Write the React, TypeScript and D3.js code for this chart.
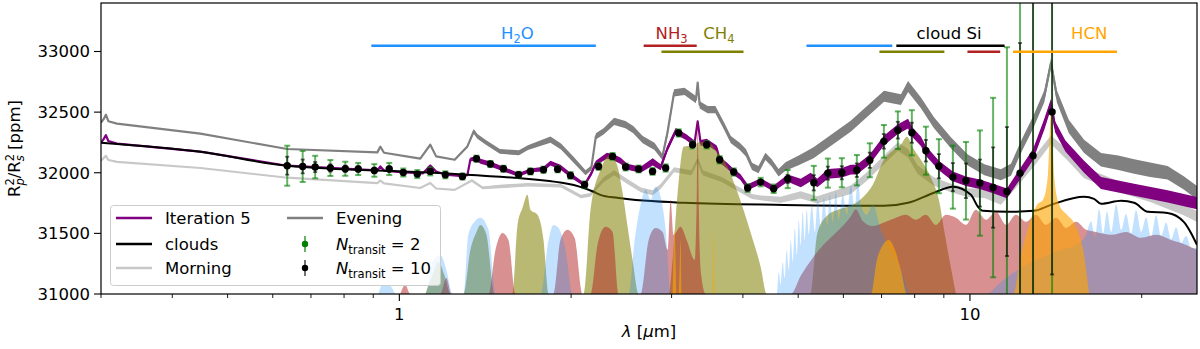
import React from 'react';
import * as d3 from 'd3';

// ---------------- data (wavelength in micron, transit depth in ppm) ----------------
// [lambda, value, noise half-width]
const iteration5: number[][] = [
  [0.300,32248,0],[0.303,32275,0],[0.306,32310,0],[0.309,32262,0],[0.320,32240,0],[0.448,32174,0],[0.636,32058,0],
  [0.915,32020,0],[0.926,32052,0],[0.94,32018,0],[1.004,32005,0],[1.10,31995,0],[1.133,32060,4],[1.16,32010,0],
  [1.204,31985,0],[1.29,31972,0],[1.316,31980,5],[1.332,32110,15],[1.365,32116,20],[1.387,32095,20],[1.444,32072,20],
  [1.522,32030,20],[1.618,31983,15],[1.697,32020,15],[1.789,32030,20],[1.84,32080,20],[1.916,32045,20],[1.995,31980,20],
  [2.112,31900,15],[2.17,31995,20],[2.21,32080,20],[2.31,32140,25],[2.364,32130,25],[2.44,32100,25],[2.51,32050,25],
  [2.647,32025,25],[2.78,32090,30],[2.87,32045,25],[2.95,32200,25],[3.05,32345,25],[3.087,32328,25],[3.18,32295,25],
  [3.29,32240,25],[3.333,32424,10],[3.373,32246,25],[3.456,32255,25],[3.60,32200,25],[3.642,32107,25],[3.75,32060,25],
  [3.855,32006,25],[3.96,31965,25],[4.078,31880,25],[4.298,31930,25],[4.529,31870,25],[4.793,31955,30],[5.052,31915,35],
  [5.26,31965,35],[5.40,31915,35],[5.636,31990,40],[5.963,32000,40],[6.183,32025,40],[6.336,32025,40],[6.676,32110,40],
  [7.066,32265,40],[7.476,32360,40],[7.79,32405,40],[7.91,32340,40],[8.204,32260,40],[8.371,32180,40],[8.822,32060,40],
  [9.334,31970,40],[9.84,31930,40],[10.41,31905,40],[10.98,31870,40],[11.61,31830,40],[12.24,31990,45],[12.90,32150,45],
  [13.5,32400,45],[13.87,32570,40],[14.1,32380,45],[14.7,32220,45],[15.85,32050,50],[16.97,31915,50],[19.4,31860,50],
  [22.2,31805,50],[25.0,31750,50],
];

const evening: number[][] = [
  [0.300,32413,0],[0.303,32440,0],[0.306,32479,0],[0.309,32425,0],[0.320,32405,0],[0.448,32322,0],[0.636,32196,0],
  [0.915,32168,0],[0.926,32215,0],[0.94,32165,0],[1.088,32116,0],[1.133,32231,5],[1.16,32135,0],[1.25,32107,0],
  [1.316,32217,10],[1.35,32341,20],[1.37,32300,20],[1.42,32248,20],[1.50,32176,20],[1.62,32165,20],[1.68,32207,20],
  [1.84,32273,25],[1.92,32217,25],[2.02,32107,25],[2.12,32000,20],[2.17,32040,20],[2.21,32300,25],[2.28,32341,25],
  [2.38,32424,30],[2.49,32397,30],[2.57,32355,30],[2.67,32273,30],[2.80,32217,30],[2.89,32130,25],[2.95,32330,30],
  [3.03,32659,30],[3.16,32672,30],[3.25,32630,30],[3.31,32603,30],[3.333,32744,10],[3.36,32560,30],[3.47,32521,30],
  [3.58,32521,30],[3.71,32383,30],[3.81,32273,30],[3.95,32217,30],[4.05,32165,30],[4.15,32052,30],[4.26,32025,30],
  [4.38,32135,30],[4.49,32083,30],[4.62,32000,30],[4.75,32052,35],[5.03,32107,40],[5.32,32165,45],[6.18,32383,45],
  [7.07,32631,45],[7.57,32603,45],[7.79,32711,45],[8.2,32578,45],[8.65,32413,45],[9.26,32248,45],[9.9,32107,45],
  [10.6,32025,45],[11.33,31983,45],[11.8,32025,50],[12.3,32217,50],[12.9,32413,50],[13.5,32631,50],[13.87,32907,40],
  [14.2,32631,50],[14.9,32383,55],[15.85,32217,55],[16.97,32107,55],[18.2,32083,60],[19.4,32052,60],[20.7,32025,60],
  [22.2,32000,55],[23.7,31917,55],[25.0,31835,55],
];

const morning: number[][] = [
  [0.300,32099,0],[0.303,32120,0],[0.306,32140,0],[0.309,32105,0],[0.320,32090,0],[0.448,32039,0],[0.636,31959,0],
  [0.915,31915,0],[0.926,31936,0],[0.94,31912,0],[1.088,31874,0],[1.133,31915,0],[1.16,31870,0],[1.25,31859,0],
  [1.34,31936,10],[1.40,31875,12],[1.50,31887,15],[1.68,31901,15],[1.92,31893,15],[2.08,31804,15],[2.16,31818,15],
  [2.28,31942,20],[2.38,32000,20],[2.51,31928,20],[2.65,31859,20],[2.78,31835,20],[2.87,31887,20],[3.03,32025,20],
  [3.25,32000,20],[3.333,32107,10],[3.40,32000,20],[3.68,31942,20],[3.95,31859,20],[4.15,31804,20],[4.30,31793,20],
  [4.66,31777,25],[5.05,31818,30],[5.4,31777,30],[6.18,31859,35],[6.6,31969,35],[7.07,32107,35],[7.48,32217,35],
  [7.79,32160,35],[8.1,32025,35],[8.65,31928,35],[9.26,31874,35],[9.9,31835,35],[10.6,31832,40],[11.33,31777,40],
  [11.9,31887,40],[12.9,32083,40],[13.87,32273,35],[14.9,32135,45],[15.85,32000,45],[18.2,31887,45],[20.7,31804,45],
  [23.7,31694,45],[25.0,31639,45],
];

const clouds: number[][] = [
  [0.300,32248],[0.448,32173],[0.636,32058],[1.147,32000],[1.316,31983],[1.971,31909],[2.19,31843],[2.25,31818],
  [2.41,31793],[3.15,31752],[4.72,31735],[7.07,31727],[7.79,31752],[8.65,31835],[9.33,31884],[10.04,31818],
  [10.33,31719],[10.54,31686],[11.66,31678],[12.95,31686],[13.87,31735],[15.85,31802],[16.5,31785],[16.98,31744],
  [18.4,31769],[19.4,31752],[20.5,31678],[22.2,31669],[23.7,31595],[24.4,31504],[25.0,31405],
];

// simulated observation bins
const binLambda = [0.636,0.677,0.712,0.757,0.804,0.847,0.904,0.960,1.016,1.075,1.133,1.204,1.290,1.365,1.444,1.522,
  1.618,1.697,1.789,1.894,1.995,2.112,2.234,2.364,2.492,2.626,2.778,2.929,3.087,3.266,3.456,3.642,3.855,4.078,4.298,
  4.529,4.793,5.325,5.636,5.963,6.336,6.676,7.066,7.476,7.910,8.371,8.822,9.334,9.84,10.41,10.98,11.61,12.24,12.90,13.93];
const binValue = [32058,32052,32047,32039,32033,32031,32019,32031,32002,31989,32011,31983,31969,32116,32072,32033,
  31983,32011,32025,32029,31978,31901,32052,32135,32047,32031,32011,32039,32328,32231,32231,32107,32006,31874,31923,
  31868,31948,31917,31997,32000,32021,32103,32259,32351,32330,32182,32054,31964,31934,31915,31878,31845,31997,32140,32502];
const errN2 = [165,128,93,66,58,50,52,50,33,33,33,29,25,25,25,25,25,25,25,25,28,28,28,28,28,28,28,30,30,30,30,30,30,32,35,
  35,75,140,120,120,125,140,135,155,186,198,223,260,320,434,740,1190,2400,3000,3000];
const errN10 = [74,57,42,30,26,22,23,22,15,15,15,13,11,11,11,11,11,11,11,11,13,13,13,13,13,13,13,13,13,13,13,13,13,14,16,
  16,34,63,54,54,56,63,60,69,83,89,100,116,143,194,331,532,1073,1341,1341];

// molecular contributions
const ch4Contrib: number[][] = [
  [1.111,31000],[1.143,31157],[1.171,31264],[1.199,31157],[1.229,31000],
  [1.295,31000],[1.332,31364],[1.365,31512],[1.387,31570],[1.421,31488],[1.468,31000],
  [1.578,31000],[1.611,31570],[1.644,31711],[1.677,31818],[1.697,31694],[1.746,31653],[1.789,31446],[1.826,31000],
  [2.103,31000],[2.163,31694],[2.252,32025],[2.345,32149],[2.413,32050],[2.462,31835],[2.512,31554],[2.563,31281],[2.626,31000],
  [2.964,31000],[3.012,31281],[3.074,31835],[3.149,32215],[3.240,32223],[3.30,32190],[3.333,32248],[3.471,32256],[3.614,32165],
  [3.703,32107],[3.917,31835],[4.129,31504],[4.298,31223],[4.404,31000],
  [5.25,31000],[5.40,31500],[5.60,31640],[5.90,31700],[6.20,31730],[6.50,31800],[6.758,31901],[7.066,32107],[7.356,32190],
  [7.568,32231],[7.755,32297],[7.943,32207],[8.204,32107],[8.543,31959],[8.822,31777],[9.04,31488],[9.263,31215],[9.45,31000],
];

const nh3Contrib: number[][] = [
  [1.004,31000],[1.024,31074],[1.045,31000],
  [1.180,31000],[1.209,31132],[1.234,31000],
  [1.433,31000],[1.474,31364],[1.516,31504],[1.553,31446],[1.598,31000],
  [1.862,31000],[1.916,31446],[1.971,31529],[2.028,31463],[2.095,31000],
  [2.163,31000],[2.225,31405],[2.298,31554],[2.364,31512],[2.422,31000],
  [2.647,31000],[2.735,31446],[2.812,31545],[2.893,31512],[2.953,31364],[2.988,31777],[3.024,31488],[3.111,31554],
  [3.188,31446],[3.293,31281],[3.320,31777],[3.333,32430],[3.347,31777],[3.373,31198],[3.443,31000],
  [4.853,31000],[5.052,31150],[5.305,31300],[5.523,31400],[5.749,31480],[5.986,31560],[6.183,31640],[6.310,31700],
  [6.491,31600],[6.758,31560],[7.122,31595],[7.417,31628],[7.722,31653],[8.039,31612],[8.371,31653],[8.715,31570],
  [9.076,31653],[9.45,31628],[9.84,31570],[10.24,31694],[10.67,31612],[11.11,31678],[11.57,31570],[12.04,31653],
  [12.54,31595],[13.06,31653],[13.59,31570],[14.16,31628],[14.74,31545],[15.35,31595],[15.98,31529],[16.63,31512],
  [17.68,31488],[18.78,31512],[19.95,31463],[21.20,31488],[22.52,31446],[23.92,31405],[25.0,31364],
];

const h2oContrib: number[][] = [
  [0.919,31000],[0.934,31074],[0.964,31066],[0.988,31000],
  [1.111,31000],[1.143,31264],[1.180,31322],[1.209,31198],[1.239,31000],
  [1.295,31000],[1.321,31488],[1.354,31595],[1.387,31628],[1.433,31529],[1.474,31000],
  [1.768,31000],[1.826,31446],[1.862,31570],[1.901,31545],[1.955,31364],[2.011,31000],
  [2.522,31000],[2.585,31446],[2.647,31736],[2.702,31859],[2.757,31777],[2.812,31884],[2.870,31802],[2.929,31529],[2.988,31000],
  [4.585,31000],[4.622,31182],[4.659,31074],[4.697,31264],[4.735,31132],[4.774,31364],[4.813,31198],[4.853,31446],
  [4.892,31264],[4.932,31545],[4.972,31322],[5.012,31612],[5.052,31405],[5.093,31678],[5.134,31446],[5.176,31694],
  [5.218,31488],[5.282,31736],[5.348,31512],[5.411,31777],[5.478,31545],[5.546,31793],[5.623,31570],[5.680,31818],
  [5.749,31595],[5.820,31843],[5.890,31612],[5.986,31818],[6.085,31653],[6.183,31901],[6.284,31694],[6.361,31959],
  [6.438,31736],[6.596,31653],[6.758,31736],[6.981,31529],[7.267,31364],[7.568,31198],[7.878,31000],
  [10.67,31000],[11.33,31099],[12.29,31215],[13.32,31298],[14.44,31364],[15.35,31405],[15.98,31488],[16.30,31600],
  [16.57,31470],[16.84,31700],[17.12,31500],[17.39,31680],[17.68,31512],[18.04,31740],[18.41,31529],[18.78,31660],
  [19.16,31500],[19.55,31690],[19.95,31512],[20.36,31630],[20.77,31470],[21.20,31650],[21.63,31480],[22.08,31590],
  [22.52,31450],[22.98,31550],[23.45,31420],[23.92,31480],[24.42,31380],[25.0,31380],
];

const hcnContrib: number[][] = [
  [3.012,31000],[3.037,31529],[3.062,31000],[3.087,31000],[3.111,31446],[3.124,31000],
  [3.541,31000],[3.555,31529],[3.569,31000],
  [6.704,31000],[6.868,31281],[7.037,31405],[7.209,31446],[7.386,31364],[7.568,31198],[7.755,31000],
  [11.90,31000],[12.29,31322],[12.69,31570],[13.11,31736],[13.43,31777],[13.70,31983],[13.87,32496],[14.04,31983],
  [14.33,31736],[14.80,31653],[15.29,31570],[15.79,31364],[16.18,31000],
];

// band markers: [lambda start, lambda end, row]
const bandNames = ['H2O', 'NH3', 'CH4', 'cloud Si', 'HCN'];
const bandLabelLambda = [1.61, 3.0, 3.63, 9.19, 16.18];
const bandSegments: number[][][] = [
  [[0.893, 2.21, 0], [5.17, 7.31, 0]],
  [[2.68, 3.32, 0], [9.9, 11.3, 1]],
  [[2.88, 4.01, 1], [6.94, 9.02, 1]],
  [[7.43, 11.5, 0]],
  [[11.9, 18.1, 1]],
];

const yTicks = [31000, 31500, 32000, 32500, 33000];
const xMajorTicks = [1, 10];
const xMinorTicks = [0.3, 0.4, 0.5, 0.6, 0.7, 0.8, 0.9, 2, 3, 4, 5, 6, 7, 8, 9, 20];

// ---------------- styling ----------------
const FONT = '"DejaVu Sans", Verdana, sans-serif';
const FS = 16.5;
const SUB = 11.5;
const bandColors = ['#1e90ff', '#b22222', '#808000', '#000000', '#ffa500'];
const C_ITER = '#800080';
const C_EVE = '#808080';
const C_MOR = '#c8c8c8';

function Chem({ s }: { s: string }) {
  const parts: React.ReactNode[] = [];
  let sub = false;
  s.split('').forEach((ch, i) => {
    const isDigit = /[0-9]/.test(ch);
    if (isDigit && !sub) {
      parts.push(<tspan key={i} dy={4} fontSize={SUB}>{ch}</tspan>);
      sub = true;
    } else if (!isDigit && sub) {
      parts.push(<tspan key={i} dy={-4}>{ch}</tspan>);
      sub = false;
    } else {
      parts.push(<tspan key={i} fontSize={isDigit ? SUB : undefined}>{ch}</tspan>);
    }
  });
  return <>{parts}</>;
}

export default function App() {
  const L = 101, R = 1197, T = 3, B = 294;
  const x = d3.scaleLog().domain([0.3, 25]).range([L, R]);
  const y = d3.scaleLinear().domain([31000, 33400]).range([B, T]);

  const line = d3.line<number[]>().x(d => x(d[0])).y(d => y(d[1]));
  const smooth = d3.line<number[]>().x(d => x(d[0])).y(d => y(d[1])).curve(d3.curveMonotoneX);
  const band = d3.area<number[]>().x(d => x(d[0])).y0(d => y(d[1] - d[2])).y1(d => y(d[1] + d[2]));
  const fill = d3.area<number[]>().x(d => x(d[0])).y0(y(31000)).y1(d => y(d[1])).curve(d3.curveMonotoneX);

  const spectra: [number[][], string][] = [[morning, C_MOR], [evening, C_EVE], [iteration5, C_ITER]];
  const contribs: [number[][], string, number][] = [
    [ch4Contrib, '#808000', 0.55],
    [nh3Contrib, '#b22222', 0.5],
    [h2oContrib, '#1e90ff', 0.27],
    [hcnContrib, '#ffa500', 0.62],
  ];
  const rowY = [45.7, 51.7];

  return (
    <svg width={1200} height={349} style={{ position: 'absolute', left: 0, top: 0, background: '#fff' }}
      fontFamily={FONT} fontSize={FS}>
      <defs>
        <clipPath id="plotClip"><rect x={L} y={T} width={R - L} height={B - T} /></clipPath>
      </defs>
      <rect x={0} y={0} width={1200} height={349} fill="#fff" />

      <g clipPath="url(#plotClip)">
        {spectra.map(([data, c], i) => (
          <g key={i}>
            <path d={band(data) || ''} fill={c} stroke="none" />
            <path d={line(data) || ''} fill="none" stroke={c} strokeWidth={2.2} strokeLinejoin="round" />
          </g>
        ))}
        <path d={smooth(clouds) || ''} fill="none" stroke="#000" strokeWidth={2} />

        {contribs.map(([data, c, o], i) => (
          <path key={i} d={fill(data) || ''} fill={c} fillOpacity={o} stroke="none" />
        ))}

        {/* error bars N=2 */}
        {binLambda.map((l, i) => {
          const cx = x(l), y1 = y(binValue[i] - errN2[i]), y2 = y(binValue[i] + errN2[i]);
          return (
            <g key={'g' + i} stroke="#008000" strokeOpacity={0.6} strokeWidth={2}>
              <line x1={cx} x2={cx} y1={y1} y2={y2} />
              <line x1={cx - 3} x2={cx + 3} y1={y1} y2={y1} />
              <line x1={cx - 3} x2={cx + 3} y1={y2} y2={y2} />
            </g>
          );
        })}
        {/* error bars N=10 */}
        {binLambda.map((l, i) => {
          const cx = x(l), y1 = y(binValue[i] - errN10[i]), y2 = y(binValue[i] + errN10[i]);
          return (
            <g key={'k' + i} stroke="#000" strokeOpacity={0.6} strokeWidth={1.8}>
              <line x1={cx} x2={cx} y1={y1} y2={y2} />
              <line x1={cx - 2} x2={cx + 2} y1={y1} y2={y1} />
              <line x1={cx - 2} x2={cx + 2} y1={y2} y2={y2} />
            </g>
          );
        })}
        {binLambda.map((l, i) => (
          <circle key={'d' + i} cx={x(l)} cy={y(binValue[i])} r={3.7} fill="#000" />
        ))}
      </g>

      {/* band markers */}
      {bandNames.map((n, i) => (
        <g key={n}>
          {bandSegments[i].map((s, j) => (
            <line key={j} x1={x(s[0])} x2={x(s[1])} y1={rowY[s[2]]} y2={rowY[s[2]]}
              stroke={bandColors[i]} strokeWidth={2.6} />
          ))}
          <text x={x(bandLabelLambda[i])} y={38.5} textAnchor="middle" fill={bandColors[i]}>
            <Chem s={n} />
          </text>
        </g>
      ))}

      {/* axes frame */}
      <rect x={L} y={T} width={R - L} height={B - T} fill="none" stroke="#000" strokeWidth={1.2} />

      {/* y ticks */}
      {yTicks.map(t => (
        <g key={t}>
          <line x1={L - 7} x2={L} y1={y(t)} y2={y(t)} stroke="#000" strokeWidth={1.1} />
          <text x={L - 11} y={y(t)} dy="0.36em" textAnchor="end">{t}</text>
        </g>
      ))}
      {/* x ticks */}
      {xMajorTicks.map(t => (
        <g key={t}>
          <line x1={x(t)} x2={x(t)} y1={B} y2={B + 7} stroke="#000" strokeWidth={1.1} />
          <text x={x(t)} y={B + 26} textAnchor="middle">{t}</text>
        </g>
      ))}
      {xMinorTicks.map(t => (
        <line key={t} x1={x(t)} x2={x(t)} y1={B} y2={B + 4} stroke="#000" strokeWidth={0.9} />
      ))}

      {/* axis labels */}
      <text x={(L + R) / 2} y={337} textAnchor="middle">
        <tspan fontStyle="italic">λ</tspan> [<tspan fontStyle="italic">μ</tspan>m]
      </text>
      <text transform={`translate(20,${(T + B) / 2}) rotate(-90)`} textAnchor="middle">
        R<tspan dy={-6} fontSize={SUB}>2</tspan>
        <tspan dx={-7.3} dy={10} fontSize={SUB} fontStyle="italic">p</tspan>
        <tspan dy={-4}>/R</tspan>
        <tspan dy={-6} fontSize={SUB}>2</tspan>
        <tspan dx={-7.3} dy={10} fontSize={SUB} fontStyle="italic">s</tspan>
        <tspan dy={-4}> [ppm]</tspan>
      </text>

      {/* legend */}
      <g>
        <rect x={110.5} y={205.5} width={330} height={80} rx={3} fill="#fff" fillOpacity={0.8} stroke="#cccccc" />
        {[[C_ITER, 'Iteration 5', 218], ['#000', 'clouds', 244], [C_MOR, 'Morning', 268]].map(([c, t, yy]) => (
          <g key={t as string}>
            <line x1={116} x2={152} y1={yy as number} y2={yy as number} stroke={c as string} strokeWidth={2.6} />
            <text x={165} y={yy as number} dy="0.36em">{t}</text>
          </g>
        ))}
        <line x1={287} x2={323} y1={218} y2={218} stroke={C_EVE} strokeWidth={2.6} />
        <text x={336} y={218} dy="0.36em">Evening</text>
        <line x1={305} x2={305} y1={236} y2={252} stroke="#008000" strokeOpacity={0.6} strokeWidth={2} />
        <circle cx={305} cy={244} r={3.2} fill="#008000" />
        <text x={336} y={244} dy="0.36em">
          <tspan fontStyle="italic">N</tspan><tspan dy={4} fontSize={SUB}>transit</tspan><tspan dy={-4}> = 2</tspan>
        </text>
        <line x1={305} x2={305} y1={260} y2={276} stroke="#000" strokeOpacity={0.55} strokeWidth={2} />
        <circle cx={305} cy={268} r={3.2} fill="#000" />
        <text x={336} y={268} dy="0.36em">
          <tspan fontStyle="italic">N</tspan><tspan dy={4} fontSize={SUB}>transit</tspan><tspan dy={-4}> = 10</tspan>
        </text>
      </g>
    </svg>
  );
}
